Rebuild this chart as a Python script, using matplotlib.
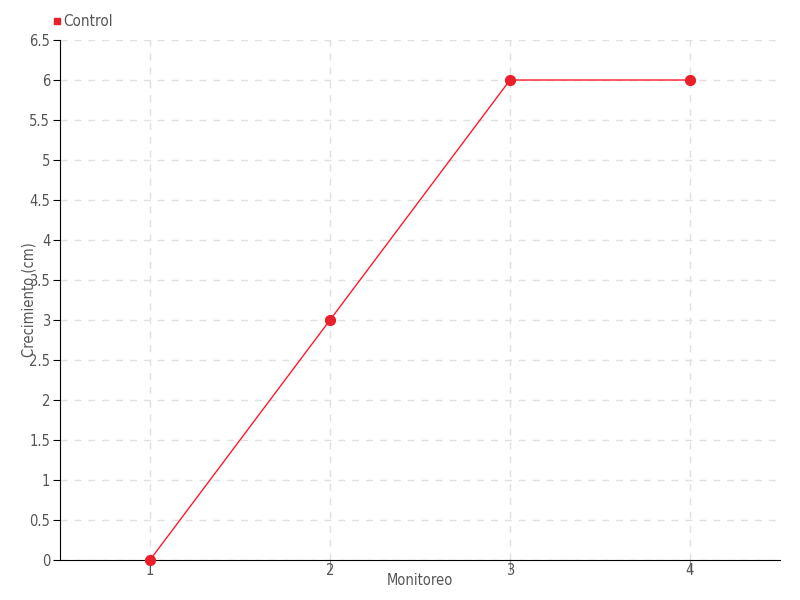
import numpy as np
import matplotlib.pyplot as plt
from matplotlib.lines import Line2D

monitoreo = ["1", "2", "3", "4"]
control = [0, 3, 6, 6]
yticks = [0, 0.5, 1, 1.5, 2, 2.5, 3, 3.5, 4, 4.5, 5, 5.5, 6, 6.5]

plt.rcParams['font.family'] = 'DejaVu Sans'
plt.rcParams['font.stretch'] = 'condensed'

fig = plt.figure(figsize=(8, 6), dpi=100)
ax = fig.add_axes([0.075, 0.0667, 0.9, 0.8666])

x = np.arange(1, len(monitoreo) + 1)
ax.plot(x, control, color="#ff1a2a", linewidth=1, zorder=3)
ax.scatter(x, control, color="#e8202a", s=50, zorder=4, clip_on=False)

ax.set_xlim(0.5, 4.5)
ax.set_ylim(0, 6.5)
ax.set_xticks(x)
ax.set_xticklabels(monitoreo)
ax.set_yticks(yticks)
ax.set_yticklabels([f"{v:g}" for v in yticks])

ax.grid(True, color="#e0e0e0", linestyle=(0, (5, 5)), linewidth=1)
ax.set_axisbelow(True)
for s in ["top", "right"]:
    ax.spines[s].set_visible(False)
ax.spines["left"].set_color("black")
ax.spines["bottom"].set_color("black")
ax.tick_params(axis="y", labelcolor="#555555", labelsize=10.5, length=5,
               direction="out", color="black", pad=2)
ax.tick_params(axis="x", labelcolor="#555555", labelsize=10.5, length=8,
               direction="out", color="#999999", pad=-6)

ax.set_xlabel("Monitoreo", color="#555555", fontsize=10.5)
ax.set_ylabel("Crecimiento (cm)", color="#555555", fontsize=10.5)
ax.xaxis.set_label_coords(0.5, -0.025)
ax.yaxis.set_label_coords(-0.032, 0.5)

handle = Line2D([], [], marker="s", color="#e8202a", linestyle="none", markersize=5)
ax.legend([handle], ["Control"], loc="lower left", bbox_to_anchor=(-0.025, 1.0),
          frameon=False, handletextpad=0.1, handlelength=0.6, fontsize=11,
          labelcolor="#555555", borderaxespad=0.3)

fig.savefig("out.png", dpi=100)
